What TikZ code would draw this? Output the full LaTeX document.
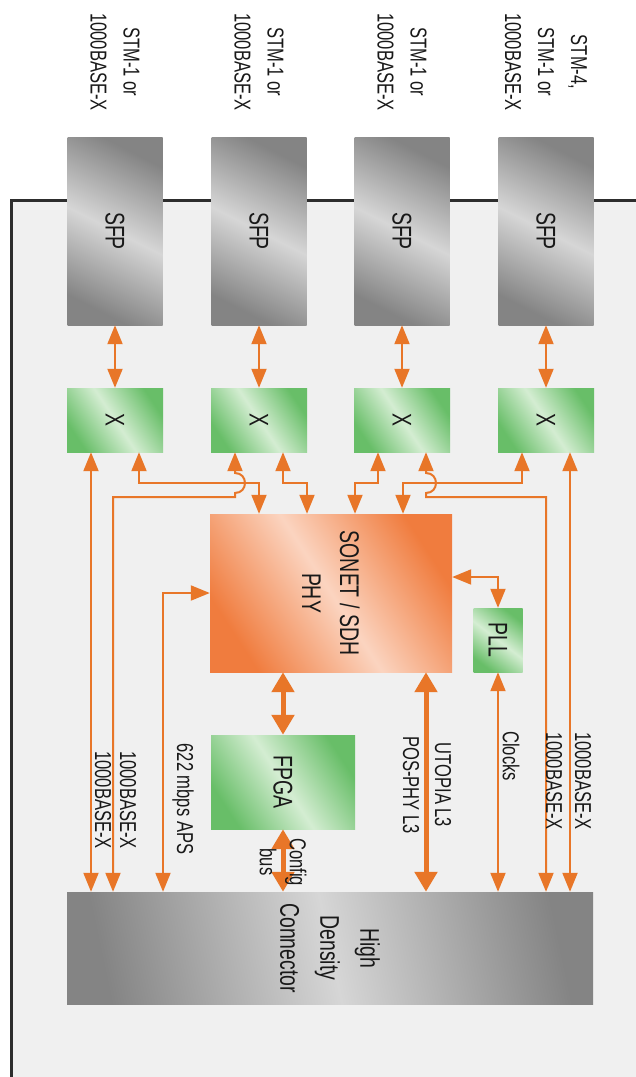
\documentclass[tikz,border=0pt]{standalone}
\usepackage{fontspec}
\setmainfont{Liberation Sans}[FakeStretch=0.72]
\usetikzlibrary{arrows.meta}
\definecolor{arrowc}{RGB}{232,118,40}
\definecolor{bgc}{RGB}{240,240,240}
\definecolor{boardc}{RGB}{45,45,45}
\definecolor{txtc}{RGB}{25,25,25}
\definecolor{gdark}{RGB}{132,132,132}
\definecolor{glight}{RGB}{214,214,214}
\definecolor{odark}{RGB}{240,124,62}
\definecolor{olight}{RGB}{251,212,192}
\definecolor{grdark}{RGB}{104,190,104}
\definecolor{grlight}{RGB}{212,237,210}
\tikzset{
  graybox/.style={rectangle, draw=none, inner sep=0pt, top color=gdark, bottom color=gdark, middle color=glight},
  greenbox/.style={rectangle, draw=none, inner sep=0pt, top color=grdark, bottom color=grdark, middle color=grlight},
  orangebox/.style={rectangle, draw=none, inner sep=0pt, top color=odark, bottom color=odark, middle color=olight},
  bigtxt/.style={text=txtc, font=\fontsize{27}{38}\selectfont, rotate=-90, align=center, inner sep=0pt},
  smalltxt/.style={text=txtc, font=\fontsize{23}{33}\selectfont, rotate=-90, align=center, inner sep=0pt},
  arr/.style={draw=arrowc, line width=2pt, {Triangle[length=19pt,width=15pt]}-{Triangle[length=19pt,width=15pt]}},
  tarr/.style={draw=arrowc, line width=5pt, {Triangle[length=20pt,width=22pt]}-{Triangle[length=20pt,width=22pt]}},
}
\begin{document}
\begin{tikzpicture}[x=1pt,y=-1pt]
\useasboundingbox (0,0) rectangle (636,1077);
\fill[white] (0,0) rectangle (636,1077);
\fill[bgc] (11,200) rectangle (636,1077);
\draw[boardc, line width=3pt] (636,200.5) -- (11,200.5) -- (11,1077);

% SFP modules
\foreach \i/\cx in {1/115,2/259,3/402,4/546}{
  \node[graybox, minimum width=95pt, minimum height=188pt, shading angle=-26.8] (sfp\i) at (\cx,231) {};
  \node[bigtxt] (tsfp\i) at (sfp\i) {SFP};
  \node[greenbox, minimum width=96pt, minimum height=64pt, shading angle=-56.3] (x\i) at (\cx,420) {};
  \node[bigtxt] (tx\i) at (x\i) {X};
  \draw[arr] (sfp\i.south) -- (x\i.north);
}
\node[smalltxt] (l1) at (115,62) {STM-1 or\\1000BASE-X};
\node[smalltxt] (l2) at (259,62) {STM-1 or\\1000BASE-X};
\node[smalltxt] (l3) at (402,62) {STM-1 or\\1000BASE-X};
\node[smalltxt] (l4) at (546,62) {STM-4,\\STM-1 or\\1000BASE-X};

% main blocks
\node[orangebox, minimum width=242pt, minimum height=158pt, shading angle=-57] (phy) at (331,593) {};
\node[bigtxt] (tphy) at (phy) {SONET / SDH\\PHY};
\node[greenbox, minimum width=49pt, minimum height=64pt, shading angle=-37.4] (pll) at (498,640) {};
\node[bigtxt] (tpll) at (pll) {PLL};
\node[greenbox, minimum width=144pt, minimum height=94pt, shading angle=-56.9] (fpga) at (283,782) {};
\node[bigtxt] (tfpga) at (fpga) {FPGA};
\node[graybox, minimum width=526pt, minimum height=112pt, shading angle=-78] (hdc) at (330,948) {};
\node[bigtxt, font=\fontsize{27}{40}\selectfont] (thdc) at (hdc) {High\\Density\\Connector};

% X to connector / PHY
\draw[arr] ([xshift=-24pt]x1.south) -- ([xshift=-24pt]x1.south |- hdc.north);
\draw[arr] ([xshift=24pt]x1.south) |- (259,483) -- ([xshift=-72pt]phy.north);
\draw[arr] ([xshift=-24pt]x2.south) -- (235,473) .. controls (248.3,473) and (248.3,493) .. (235,493) -- (235,497) -| ([xshift=-217pt]hdc.north);
\draw[arr] ([xshift=24pt]x2.south) |- (307,483) -- ([xshift=-24pt]phy.north);
\draw[arr] ([xshift=-24pt]x3.south) |- (355,483) -- ([xshift=24pt]phy.north);
\draw[arr] ([xshift=24pt]x3.south) -- (426,473) .. controls (439.3,473) and (439.3,493) .. (426,493) -- (426,497) -| ([xshift=216pt]hdc.north);
\draw[arr] ([xshift=-24pt]x4.south) |- (403,483) -- ([xshift=72pt]phy.north);
\draw[arr] ([xshift=24pt]x4.south) -- ([xshift=24pt]x4.south |- hdc.north);

% PHY connections
\draw[arr] (phy.west) -| ([xshift=-167pt]hdc.north);
\draw[arr] ([yshift=16pt]phy.east) -| (pll.north);
\draw[arr] (pll.south) -- (pll.south |- hdc.north);
\draw[tarr] (fpga.north) -- (fpga.north |- phy.south);
\draw[tarr] (fpga.south) -- (fpga.south |- hdc.north);
\draw[tarr] ([xshift=95pt]phy.south) -- ([xshift=95pt]phy.south |- hdc.north);

% line labels
\node[smalltxt] (la1) at (103,800) {1000BASE-X};
\node[smalltxt] (la2) at (128,800) {1000BASE-X};
\node[smalltxt] (laps) at (183,799) {622 mbps APS};
\node[smalltxt, font=\fontsize{23}{30}\selectfont] (lcfg) at (283,862) {Config\\bus};
\node[smalltxt, font=\fontsize{23}{32}\selectfont] (lut) at (427,785) {UTOPIA L3\\POS-PHY L3};
\node[smalltxt] (lclk) at (511,756) {Clocks};
\node[smalltxt] (lb1) at (554,781) {1000BASE-X};
\node[smalltxt] (lb2) at (583,781) {1000BASE-X};
\end{tikzpicture}
\end{document}
